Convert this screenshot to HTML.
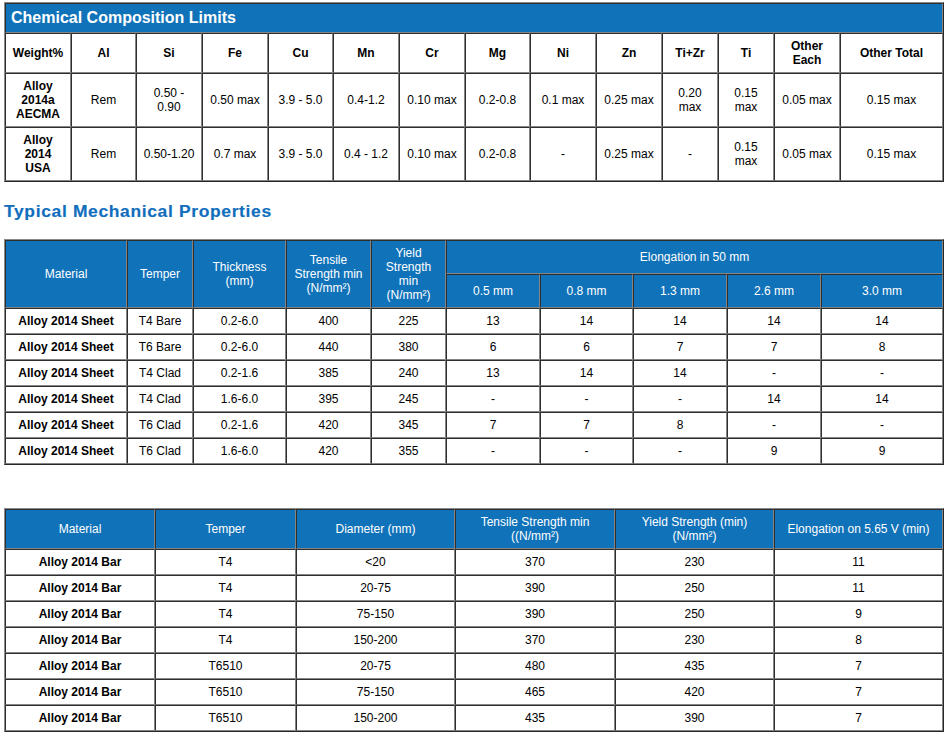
<!DOCTYPE html>
<html><head><meta charset="utf-8"><title>Alloy 2014</title><style>
html,body{margin:0;padding:0;background:#fff;}
body{width:948px;height:739px;position:relative;overflow:hidden;font-family:"Liberation Sans",sans-serif;font-size:12px;color:#000;}
.c{position:absolute;box-sizing:border-box;border-style:solid;border-width:1px;border-color:#2e2e2e #858585 #858585 #2e2e2e;display:flex;align-items:center;justify-content:center;text-align:center;line-height:14px;}
.t{position:absolute;box-sizing:border-box;border:1px solid;border-color:#8a8a8a #262626 #262626 #8a8a8a;}
.b{font-weight:bold;}
.w{color:#fff;}
.title{font-size:16px;font-weight:bold;color:#fff;line-height:18px;}
.h2{position:absolute;left:4px;top:202px;font-size:16px;font-weight:bold;color:#116ebd;letter-spacing:0.6px;transform:scaleX(1.09);transform-origin:0 0;-webkit-text-stroke:0.15px #116ebd;line-height:20px;white-space:nowrap;}
</style></head>
<body>
<div class="t" style="left:4px;top:2px;width:940px;height:180px"></div>
<div class="c " style="left:5px;top:3px;width:938px;height:30px;background:#1072b9;justify-content:flex-start;padding-left:5px;"><span class="title">Chemical Composition Limits</span></div>
<div class="c b" style="left:5px;top:33px;width:66px;height:40px;">Weight%</div>
<div class="c b" style="left:71px;top:33px;width:65px;height:40px;">Al</div>
<div class="c b" style="left:136px;top:33px;width:66px;height:40px;">Si</div>
<div class="c b" style="left:202px;top:33px;width:66px;height:40px;">Fe</div>
<div class="c b" style="left:268px;top:33px;width:65px;height:40px;">Cu</div>
<div class="c b" style="left:333px;top:33px;width:66px;height:40px;">Mn</div>
<div class="c b" style="left:399px;top:33px;width:66px;height:40px;">Cr</div>
<div class="c b" style="left:465px;top:33px;width:65px;height:40px;">Mg</div>
<div class="c b" style="left:530px;top:33px;width:66px;height:40px;">Ni</div>
<div class="c b" style="left:596px;top:33px;width:66px;height:40px;">Zn</div>
<div class="c b" style="left:662px;top:33px;width:56px;height:40px;">Ti+Zr</div>
<div class="c b" style="left:718px;top:33px;width:56px;height:40px;">Ti</div>
<div class="c b" style="left:774px;top:33px;width:66px;height:40px;">Other<br>Each</div>
<div class="c b" style="left:840px;top:33px;width:103px;height:40px;">Other Total</div>
<div class="c " style="left:5px;top:73px;width:66px;height:54px;"><b>Alloy<br>2014a<br>AECMA</b></div>
<div class="c " style="left:71px;top:73px;width:65px;height:54px;">Rem</div>
<div class="c " style="left:136px;top:73px;width:66px;height:54px;">0.50 -<br>0.90</div>
<div class="c " style="left:202px;top:73px;width:66px;height:54px;">0.50 max</div>
<div class="c " style="left:268px;top:73px;width:65px;height:54px;">3.9 - 5.0</div>
<div class="c " style="left:333px;top:73px;width:66px;height:54px;">0.4-1.2</div>
<div class="c " style="left:399px;top:73px;width:66px;height:54px;">0.10 max</div>
<div class="c " style="left:465px;top:73px;width:65px;height:54px;">0.2-0.8</div>
<div class="c " style="left:530px;top:73px;width:66px;height:54px;">0.1 max</div>
<div class="c " style="left:596px;top:73px;width:66px;height:54px;">0.25 max</div>
<div class="c " style="left:662px;top:73px;width:56px;height:54px;">0.20<br>max</div>
<div class="c " style="left:718px;top:73px;width:56px;height:54px;">0.15<br>max</div>
<div class="c " style="left:774px;top:73px;width:66px;height:54px;">0.05 max</div>
<div class="c " style="left:840px;top:73px;width:103px;height:54px;">0.15 max</div>
<div class="c " style="left:5px;top:127px;width:66px;height:54px;"><b>Alloy<br>2014<br>USA</b></div>
<div class="c " style="left:71px;top:127px;width:65px;height:54px;">Rem</div>
<div class="c " style="left:136px;top:127px;width:66px;height:54px;">0.50-1.20</div>
<div class="c " style="left:202px;top:127px;width:66px;height:54px;">0.7 max</div>
<div class="c " style="left:268px;top:127px;width:65px;height:54px;">3.9 - 5.0</div>
<div class="c " style="left:333px;top:127px;width:66px;height:54px;">0.4 - 1.2</div>
<div class="c " style="left:399px;top:127px;width:66px;height:54px;">0.10 max</div>
<div class="c " style="left:465px;top:127px;width:65px;height:54px;">0.2-0.8</div>
<div class="c " style="left:530px;top:127px;width:66px;height:54px;">-</div>
<div class="c " style="left:596px;top:127px;width:66px;height:54px;">0.25 max</div>
<div class="c " style="left:662px;top:127px;width:56px;height:54px;">-</div>
<div class="c " style="left:718px;top:127px;width:56px;height:54px;">0.15<br>max</div>
<div class="c " style="left:774px;top:127px;width:66px;height:54px;">0.05 max</div>
<div class="c " style="left:840px;top:127px;width:103px;height:54px;">0.15 max</div>
<div class="h2">Typical Mechanical Properties</div>
<div class="t" style="left:4px;top:239px;width:940px;height:226px"></div>
<div class="c w" style="left:5px;top:240px;width:122px;height:68px;background:#1072b9;">Material</div>
<div class="c w" style="left:127px;top:240px;width:66px;height:68px;background:#1072b9;">Temper</div>
<div class="c w" style="left:193px;top:240px;width:93px;height:68px;background:#1072b9;">Thickness<br>(mm)</div>
<div class="c w" style="left:286px;top:240px;width:85px;height:68px;background:#1072b9;">Tensile<br>Strength min<br>(N/mm²)</div>
<div class="c w" style="left:371px;top:240px;width:75px;height:68px;background:#1072b9;">Yield<br>Strength<br>min<br>(N/mm²)</div>
<div class="c w" style="left:446px;top:240px;width:497px;height:34px;background:#1072b9;">Elongation in 50 mm</div>
<div class="c w" style="left:446px;top:274px;width:94px;height:34px;background:#1072b9;">0.5 mm</div>
<div class="c w" style="left:540px;top:274px;width:93px;height:34px;background:#1072b9;">0.8 mm</div>
<div class="c w" style="left:633px;top:274px;width:94px;height:34px;background:#1072b9;">1.3 mm</div>
<div class="c w" style="left:727px;top:274px;width:94px;height:34px;background:#1072b9;">2.6 mm</div>
<div class="c w" style="left:821px;top:274px;width:122px;height:34px;background:#1072b9;">3.0 mm</div>
<div class="c b" style="left:5px;top:308px;width:122px;height:26px;">Alloy 2014 Sheet</div>
<div class="c " style="left:127px;top:308px;width:66px;height:26px;">T4 Bare</div>
<div class="c " style="left:193px;top:308px;width:93px;height:26px;">0.2-6.0</div>
<div class="c " style="left:286px;top:308px;width:85px;height:26px;">400</div>
<div class="c " style="left:371px;top:308px;width:75px;height:26px;">225</div>
<div class="c " style="left:446px;top:308px;width:94px;height:26px;">13</div>
<div class="c " style="left:540px;top:308px;width:93px;height:26px;">14</div>
<div class="c " style="left:633px;top:308px;width:94px;height:26px;">14</div>
<div class="c " style="left:727px;top:308px;width:94px;height:26px;">14</div>
<div class="c " style="left:821px;top:308px;width:122px;height:26px;">14</div>
<div class="c b" style="left:5px;top:334px;width:122px;height:26px;">Alloy 2014 Sheet</div>
<div class="c " style="left:127px;top:334px;width:66px;height:26px;">T6 Bare</div>
<div class="c " style="left:193px;top:334px;width:93px;height:26px;">0.2-6.0</div>
<div class="c " style="left:286px;top:334px;width:85px;height:26px;">440</div>
<div class="c " style="left:371px;top:334px;width:75px;height:26px;">380</div>
<div class="c " style="left:446px;top:334px;width:94px;height:26px;">6</div>
<div class="c " style="left:540px;top:334px;width:93px;height:26px;">6</div>
<div class="c " style="left:633px;top:334px;width:94px;height:26px;">7</div>
<div class="c " style="left:727px;top:334px;width:94px;height:26px;">7</div>
<div class="c " style="left:821px;top:334px;width:122px;height:26px;">8</div>
<div class="c b" style="left:5px;top:360px;width:122px;height:26px;">Alloy 2014 Sheet</div>
<div class="c " style="left:127px;top:360px;width:66px;height:26px;">T4 Clad</div>
<div class="c " style="left:193px;top:360px;width:93px;height:26px;">0.2-1.6</div>
<div class="c " style="left:286px;top:360px;width:85px;height:26px;">385</div>
<div class="c " style="left:371px;top:360px;width:75px;height:26px;">240</div>
<div class="c " style="left:446px;top:360px;width:94px;height:26px;">13</div>
<div class="c " style="left:540px;top:360px;width:93px;height:26px;">14</div>
<div class="c " style="left:633px;top:360px;width:94px;height:26px;">14</div>
<div class="c " style="left:727px;top:360px;width:94px;height:26px;">-</div>
<div class="c " style="left:821px;top:360px;width:122px;height:26px;">-</div>
<div class="c b" style="left:5px;top:386px;width:122px;height:26px;">Alloy 2014 Sheet</div>
<div class="c " style="left:127px;top:386px;width:66px;height:26px;">T4 Clad</div>
<div class="c " style="left:193px;top:386px;width:93px;height:26px;">1.6-6.0</div>
<div class="c " style="left:286px;top:386px;width:85px;height:26px;">395</div>
<div class="c " style="left:371px;top:386px;width:75px;height:26px;">245</div>
<div class="c " style="left:446px;top:386px;width:94px;height:26px;">-</div>
<div class="c " style="left:540px;top:386px;width:93px;height:26px;">-</div>
<div class="c " style="left:633px;top:386px;width:94px;height:26px;">-</div>
<div class="c " style="left:727px;top:386px;width:94px;height:26px;">14</div>
<div class="c " style="left:821px;top:386px;width:122px;height:26px;">14</div>
<div class="c b" style="left:5px;top:412px;width:122px;height:26px;">Alloy 2014 Sheet</div>
<div class="c " style="left:127px;top:412px;width:66px;height:26px;">T6 Clad</div>
<div class="c " style="left:193px;top:412px;width:93px;height:26px;">0.2-1.6</div>
<div class="c " style="left:286px;top:412px;width:85px;height:26px;">420</div>
<div class="c " style="left:371px;top:412px;width:75px;height:26px;">345</div>
<div class="c " style="left:446px;top:412px;width:94px;height:26px;">7</div>
<div class="c " style="left:540px;top:412px;width:93px;height:26px;">7</div>
<div class="c " style="left:633px;top:412px;width:94px;height:26px;">8</div>
<div class="c " style="left:727px;top:412px;width:94px;height:26px;">-</div>
<div class="c " style="left:821px;top:412px;width:122px;height:26px;">-</div>
<div class="c b" style="left:5px;top:438px;width:122px;height:26px;">Alloy 2014 Sheet</div>
<div class="c " style="left:127px;top:438px;width:66px;height:26px;">T6 Clad</div>
<div class="c " style="left:193px;top:438px;width:93px;height:26px;">1.6-6.0</div>
<div class="c " style="left:286px;top:438px;width:85px;height:26px;">420</div>
<div class="c " style="left:371px;top:438px;width:75px;height:26px;">355</div>
<div class="c " style="left:446px;top:438px;width:94px;height:26px;">-</div>
<div class="c " style="left:540px;top:438px;width:93px;height:26px;">-</div>
<div class="c " style="left:633px;top:438px;width:94px;height:26px;">-</div>
<div class="c " style="left:727px;top:438px;width:94px;height:26px;">9</div>
<div class="c " style="left:821px;top:438px;width:122px;height:26px;">9</div>
<div class="t" style="left:4px;top:508px;width:940px;height:224px"></div>
<div class="c w" style="left:5px;top:509px;width:150px;height:40px;background:#1072b9;">Material</div>
<div class="c w" style="left:155px;top:509px;width:141px;height:40px;background:#1072b9;">Temper</div>
<div class="c w" style="left:296px;top:509px;width:159px;height:40px;background:#1072b9;">Diameter (mm)</div>
<div class="c w" style="left:455px;top:509px;width:160px;height:40px;background:#1072b9;">Tensile Strength min<br>((N/mm²)</div>
<div class="c w" style="left:615px;top:509px;width:159px;height:40px;background:#1072b9;">Yield Strength (min)<br>(N/mm²)</div>
<div class="c w" style="left:774px;top:509px;width:169px;height:40px;background:#1072b9;">Elongation on 5.65 V (min)</div>
<div class="c b" style="left:5px;top:549px;width:150px;height:26px;">Alloy 2014 Bar</div>
<div class="c " style="left:155px;top:549px;width:141px;height:26px;">T4</div>
<div class="c " style="left:296px;top:549px;width:159px;height:26px;">&lt;20</div>
<div class="c " style="left:455px;top:549px;width:160px;height:26px;">370</div>
<div class="c " style="left:615px;top:549px;width:159px;height:26px;">230</div>
<div class="c " style="left:774px;top:549px;width:169px;height:26px;">11</div>
<div class="c b" style="left:5px;top:575px;width:150px;height:26px;">Alloy 2014 Bar</div>
<div class="c " style="left:155px;top:575px;width:141px;height:26px;">T4</div>
<div class="c " style="left:296px;top:575px;width:159px;height:26px;">20-75</div>
<div class="c " style="left:455px;top:575px;width:160px;height:26px;">390</div>
<div class="c " style="left:615px;top:575px;width:159px;height:26px;">250</div>
<div class="c " style="left:774px;top:575px;width:169px;height:26px;">11</div>
<div class="c b" style="left:5px;top:601px;width:150px;height:26px;">Alloy 2014 Bar</div>
<div class="c " style="left:155px;top:601px;width:141px;height:26px;">T4</div>
<div class="c " style="left:296px;top:601px;width:159px;height:26px;">75-150</div>
<div class="c " style="left:455px;top:601px;width:160px;height:26px;">390</div>
<div class="c " style="left:615px;top:601px;width:159px;height:26px;">250</div>
<div class="c " style="left:774px;top:601px;width:169px;height:26px;">9</div>
<div class="c b" style="left:5px;top:627px;width:150px;height:26px;">Alloy 2014 Bar</div>
<div class="c " style="left:155px;top:627px;width:141px;height:26px;">T4</div>
<div class="c " style="left:296px;top:627px;width:159px;height:26px;">150-200</div>
<div class="c " style="left:455px;top:627px;width:160px;height:26px;">370</div>
<div class="c " style="left:615px;top:627px;width:159px;height:26px;">230</div>
<div class="c " style="left:774px;top:627px;width:169px;height:26px;">8</div>
<div class="c b" style="left:5px;top:653px;width:150px;height:26px;">Alloy 2014 Bar</div>
<div class="c " style="left:155px;top:653px;width:141px;height:26px;">T6510</div>
<div class="c " style="left:296px;top:653px;width:159px;height:26px;">20-75</div>
<div class="c " style="left:455px;top:653px;width:160px;height:26px;">480</div>
<div class="c " style="left:615px;top:653px;width:159px;height:26px;">435</div>
<div class="c " style="left:774px;top:653px;width:169px;height:26px;">7</div>
<div class="c b" style="left:5px;top:679px;width:150px;height:26px;">Alloy 2014 Bar</div>
<div class="c " style="left:155px;top:679px;width:141px;height:26px;">T6510</div>
<div class="c " style="left:296px;top:679px;width:159px;height:26px;">75-150</div>
<div class="c " style="left:455px;top:679px;width:160px;height:26px;">465</div>
<div class="c " style="left:615px;top:679px;width:159px;height:26px;">420</div>
<div class="c " style="left:774px;top:679px;width:169px;height:26px;">7</div>
<div class="c b" style="left:5px;top:705px;width:150px;height:26px;">Alloy 2014 Bar</div>
<div class="c " style="left:155px;top:705px;width:141px;height:26px;">T6510</div>
<div class="c " style="left:296px;top:705px;width:159px;height:26px;">150-200</div>
<div class="c " style="left:455px;top:705px;width:160px;height:26px;">435</div>
<div class="c " style="left:615px;top:705px;width:159px;height:26px;">390</div>
<div class="c " style="left:774px;top:705px;width:169px;height:26px;">7</div>
</body></html>
